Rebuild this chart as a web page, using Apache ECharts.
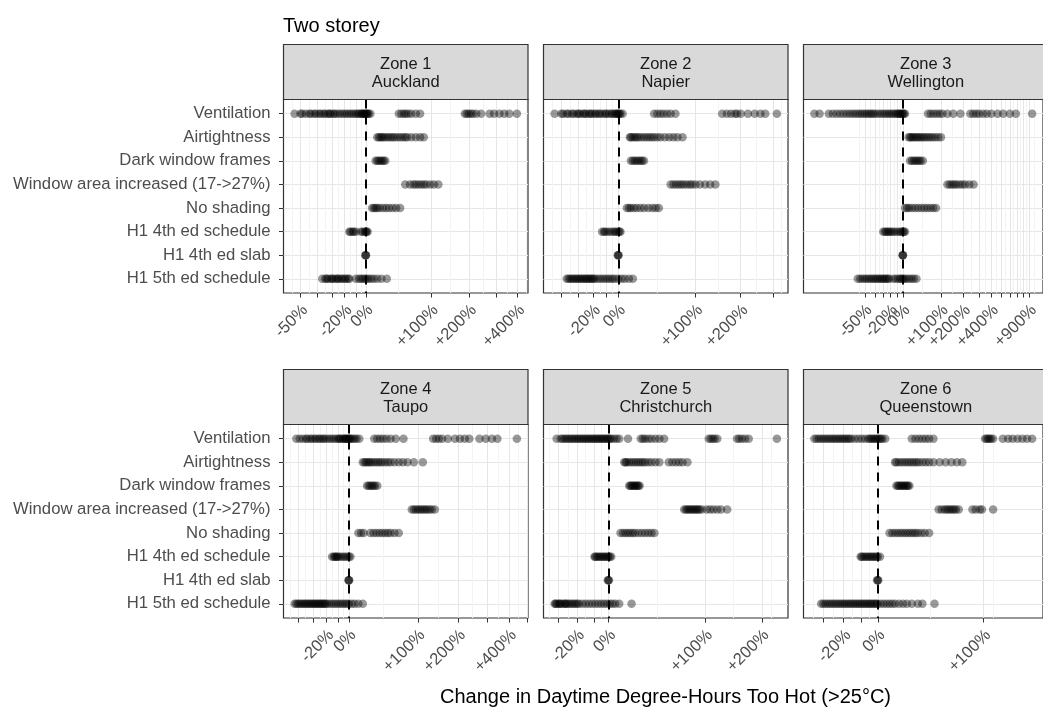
<!DOCTYPE html>
<html><head><meta charset="utf-8">
<script src="https://cdn.jsdelivr.net/npm/echarts@6/dist/echarts.min.js"></script>
<style>html,body{margin:0;padding:0;background:#fff}#c{width:1043px;height:713px}</style>
</head><body><div id="c"></div><script>
// ---------- data ----------
const categories = ['Ventilation','Airtightness','Dark window frames','Window area increased (17->27%)','No shading','H1 4th ed schedule','H1 4th ed slab','H1 5th ed schedule'];
const zoneTitles = [['Zone 1','Auckland'],['Zone 2','Napier'],['Zone 3','Wellington'],['Zone 4','Taupo'],['Zone 5','Christchurch'],['Zone 6','Queenstown']];
const tickBreaks = [-50,-40,-30,-20,-10,0,100,200,300,400,500,600,700,800,900];
const tickLabelled = [-50,-20,0,100,200,400,900];

// percent change per category (rows in category order)
const zone1Auckland = [
  [-53,-50,-49,-47,-45,-44,-42,-41,-39,-38,-36,-35,-33,-32,-31,-29,-28,-26,-24,-22,-20,-18,-16,-14,-12,-10,-8,-7,-5,-4,-3,-2,-1,0,1,2,3,5,42,46,50,53,57,62,70,78,186,192,198,205,212,223,240,272,290,313,335,359,397],
  [13,15,17,19,21,24,27,30,33,36,40,44,48,52,55,62,70,78,85],
  [11,13,15,17,19,21,23],
  [52,60,66,70,75,80,85,90,98,106,116],
  [7,9,11,13,16,20,24,28,33,38,44],
  [-16,-15,-13,-12,-10,-5,-3,-1,0,1,2],
  [-0.5,0,0.3],
  [-37,-35,-34,-33,-31,-30,-29,-27,-26,-25,-23,-22,-20,-19,-17,-16,-10,-7,-5,-3,-1,1,3,6,9,13,18,25]
];
const zone2Napier = [
  [-43.5,-40,-39,-37,-36,-34,-33,-31,-30,-29,-27,-26,-25,-23,-22,-21,-19,-18,-16,-15,-13,-11,-10,-8,-6,-5,-3,-2,-1,0,1,2,4,38,42,46,50,55,60,67,154,165,175,185,190,200,220,240,258,274,315],
  [11,12,14,16,18,20,23,26,29,32,35,38,42,46,52,58,64,70,78],
  [12,14,16,18,20,22,24,26],
  [60,64,68,72,76,80,85,90,94,100,108,118,128,139],
  [8,10,12,15,18,22,26,31,36,40,44],
  [-13.5,-12,-11,-9,-7,-5,-3,-2,0,1,2],
  [-0.5,0,0.3],
  [-37,-36,-35,-34,-33,-32,-31,-30,-29,-28,-27,-26,-25,-24,-23,-22,-21,-20,-19,-17,-15,-13,-11,-9,-7,-5,-3,0,3,6,10,14]
];
const zone3Wellington = [
  [-80,-78,-74,-72,-70,-68,-66,-64,-62,-60,-58,-56,-54,-52,-50,-48,-46,-44,-42,-40,-37,-34,-31,-28,-25,-22,-19,-16,-13,-10,-8,-6,-4,-2,0,2,4,58,66,75,85,95,105,125,150,185,241,260,280,300,330,360,400,460,520,600,681,950],
  [11,14,17,20,24,28,32,36,41,46,52,58,65,72,80,90,100],
  [14,18,22,26,30,34,38,44],
  [125,135,145,155,165,180,195,210,235,262],
  [4,8,12,18,25,32,40,48,56,65,74,83],
  [-30,-28,-26,-24,-22,-20,-17,-14,-10,-6,-3,0,2,4],
  [-0.5,0,0.3],
  [-56,-54,-52,-50,-48,-46,-44,-42,-40,-38,-36,-34,-32,-30,-28,-26,-24,-22,-16,-12,-8,-5,-2,0,3,7,12,17,22,28]
];
const zone4Taupo = [
  [-41,-39,-37,-35,-34,-32,-31,-29,-28,-26,-25,-23,-22,-20,-18,-16,-14,-12,-10,-9,-8,-6,-5,-4,-3,-2,-1,0,1,2,4,6,8,11,29,33,37,41,46,52,60,73,133,140,147,155,170,190,205,220,235,271,295,320,344,440],
  [15,17,19,21,23,25,28,31,34,37,40,44,48,52,58,65,72,80,92,110],
  [20,22,24,26,28,30,33],
  [88,92,96,100,104,108,112,116,120,125,130,137],
  [10,13,16,24,28,32,36,40,44,48,52,58,65],
  [-15.5,-14,-13,-12,-11,-10,-8,-6,-4,-2,0,1.6],
  [-0.5,0,0.3],
  [-42,-41,-40,-39,-38,-37,-36,-35,-34,-33,-32,-31,-30,-29,-28,-27,-26,-25,-24,-23,-22,-21,-20,-18,-16,-14,-12,-10,-8,-6,-4,-2,0,3,6,10,15]
];
const zone5Christchurch = [
  [-31,-29,-28,-27,-26,-25,-24,-23,-22,-21,-20,-19,-18,-17,-16,-15,-14,-13,-12,-11,-10,-9,-8,-7,-6,-5,-4,-3,-2,-1,0,1,2,4,6,8,15,26,28,30,33,36,40,44,49,105,108,111,114,118,151,155,160,166,173,234],
  [12,13,14,16,18,20,22,24,26,28,30,33,36,40,44,54,58,62,66,70,76],
  [16,17,18,19,20,21,22,23,24,25],
  [72,74,76,78,80,82,84,86,88,90,92,95,102,107,112,118,124,134],
  [9,11,13,15,17,19,21,24,27,30,33,36,39],
  [-9.5,-9,-8,-7,-6,-5,-4,-3,-2,-1,0,1,2],
  [-0.5,0,0.3],
  [-32,-31.5,-31,-30,-29.5,-29,-28,-27,-26.5,-26,-25,-24,-23,-22,-21,-20,-19,-17,-15,-13,-11,-9,-7,-5,-3,-1,1,3,5,8,18]
];
const zone6Queenstown = [
  [-34,-33,-32,-31,-30,-29,-28,-27,-26,-25,-24,-23,-22,-21,-20,-19,-18,-17,-16,-14,-12,-10,-8,-6,-5,-4,-3,-2,-1,0,1,2,3,5,25,28,31,34,37,40,44,102,104,106,108,110,113,127,135,142,150,158,166,175],
  [12,13,15,17,19,21,23,25,27,29,31,34,37,40,44,50,56,62,68,74],
  [13,14,15,16,17,18,19,20,21,22,23],
  [49,52,55,57,59,61,63,65,67,70,86,90,95,98,113],
  [8,10,12,14,16,18,20,22,24,26,28,30,33,36,40],
  [-10.6,-10,-9,-8,-7,-6,-5,-4,-3,-2,-1,0,1.5],
  [-0.5,0,0.3],
  [-31,-30,-29,-28,-27,-26,-25,-24,-23,-22,-21,-20,-19,-18,-17,-16,-15,-14,-13,-12,-11,-10,-9,-8,-7,-6,-5,-4,-3,-2,-1,0,2,4,6,8,10,12,15,18,21,25,30,34,45]
];
const zones = [zone1Auckland, zone2Napier, zone3Wellington, zone4Taupo, zone5Christchurch, zone6Queenstown];

// ---------- layout ----------
const colLeft = [283.5, 543.5, 803.5];
const panelW = 244.5;
const rowTop = [99.5, 424.5];
const panelH = 193.5;
const stripH = 55;
const FONT = '"Liberation Sans", Arial, sans-serif';

const tr = p => Math.log(1 + p / 100);
function fmtPct(v){
  const p = Math.round((Math.exp(v) - 1) * 100);
  if (p === 0) return '0%';
  return (p > 0 ? '+' : '') + p + '%';
}
const labelStyle = {show: true, rotate: 45, fontSize: 16.5, lineHeight: 13, color: '#4D4D4D', fontFamily: FONT,
  margin: 10, align: 'right', verticalAlign: 'top', hideOverlap: false, showMinLabel: true, showMaxLabel: true,
  formatter: fmtPct};

const grids = [], xAxes = [], yAxes = [], series = [], graphics = [];
zones.forEach((rows, zi) => {
  const col = zi % 3, row = Math.floor(zi / 3);
  const all = rows.flat().map(tr);
  const lo = Math.min(...all), hi = Math.max(...all);
  const ex = (hi - lo) * 0.05;
  const min = lo - ex, max = hi + ex;
  const majors = tickBreaks.map(tr).filter(u => u >= min && u <= max);
  const labelled = tickLabelled.map(tr).filter(u => u >= min && u <= max);
  // labels split over two axes so neighbouring labels are never dropped
  const labEven = labelled.filter((_, i) => i % 2 === 0);
  const labOdd = labelled.filter((_, i) => i % 2 === 1);
  // minor breaks: midpoints between majors (extended by one step each side)
  const b = majors.slice();
  const bd = b[1] - b[0];
  if (min < b[0]) b.unshift(b[0] - bd);
  if (max > b[b.length - 1]) b.push(b[b.length - 1] + bd);
  const minors = [];
  for (let i = 0; i < b.length - 1; i++) { const m = (b[i] + b[i + 1]) / 2; if (m > min && m < max) minors.push(m); }

  grids.push({left: colLeft[col], top: rowTop[row], width: panelW, height: panelH,
    show: true, borderColor: '#333', borderWidth: 1.2, backgroundColor: '#fff', containLabel: false});
  xAxes.push({type: 'value', gridIndex: zi, min, max, position: 'bottom',
    axisLine: {show: false, onZero: false},
    axisTick: {show: true, customValues: majors, length: 4.5, lineStyle: {color: '#333', width: 1}},
    axisLabel: Object.assign({}, labelStyle, {customValues: labEven}),
    splitLine: {show: true, lineStyle: {color: '#E6E6E6', width: 1}}
  });
  xAxes.push({type: 'value', gridIndex: zi, min, max, position: 'bottom',
    axisLine: {show: false, onZero: false},
    axisTick: {show: false, customValues: minors},
    axisLabel: Object.assign({}, labelStyle, {customValues: labOdd, show: labOdd.length > 0}),
    splitLine: {show: true, lineStyle: {color: '#F3F3F3', width: 1}}
  });
  const idx = [0,1,2,3,4,5,6,7];
  yAxes.push({type: 'value', gridIndex: zi, min: -0.6, max: 7.6, inverse: true,
    axisLine: {show: false, onZero: false},
    axisTick: {show: col === 0, customValues: idx, length: 4.5, lineStyle: {color: '#333'}},
    axisLabel: {show: col === 0, customValues: idx, fontSize: 16.7, color: '#4D4D4D', fontFamily: FONT, margin: 13,
      formatter: v => categories[Math.round(v)]},
    splitLine: {show: true, lineStyle: {color: '#E6E6E6', width: 1}}
  });
  const pts = [];
  rows.forEach((vals, ci) => vals.forEach(p => pts.push([tr(p), ci])));
  series.push({type: 'scatter', xAxisIndex: zi * 2, yAxisIndex: zi, data: pts,
    symbol: 'circle', symbolSize: 8.5, itemStyle: {color: '#000', opacity: 0.4},
    silent: true, z: 3,
    markLine: {silent: true, symbol: 'none', label: {show: false}, animation: false,
      lineStyle: {color: '#000', type: [9, 7], width: 2, opacity: 1}, data: [{xAxis: 0}]}
  });
  // strip
  graphics.push({type: 'rect', shape: {x: colLeft[col], y: rowTop[row] - stripH, width: panelW, height: stripH},
    style: {fill: '#D9D9D9', stroke: '#333', lineWidth: 1.2}, z: 10});
  graphics.push({type: 'text', x: colLeft[col] + panelW / 2, y: rowTop[row] - 26,
    style: {text: zoneTitles[zi][0] + '\n' + zoneTitles[zi][1], fill: '#1A1A1A', font: '16.5px ' + FONT,
      align: 'center', verticalAlign: 'middle', lineHeight: 18}, z: 11});
});
graphics.push({type: 'text', x: 283, y: 26, style: {text: 'Two storey', fill: '#000', font: '20px ' + FONT, align: 'left', verticalAlign: 'middle'}, z: 11});
graphics.push({type: 'text', x: 665.5, y: 697, style: {text: 'Change in Daytime Degree-Hours Too Hot (>25°C)', fill: '#000', font: '20px ' + FONT, align: 'center', verticalAlign: 'middle'}, z: 11});

const chart = echarts.init(document.getElementById('c'), null, {renderer: 'canvas'});
chart.setOption({animation: false, backgroundColor: '#fff', grid: grids, xAxis: xAxes, yAxis: yAxes, series, graphic: graphics});
</script></body></html>
